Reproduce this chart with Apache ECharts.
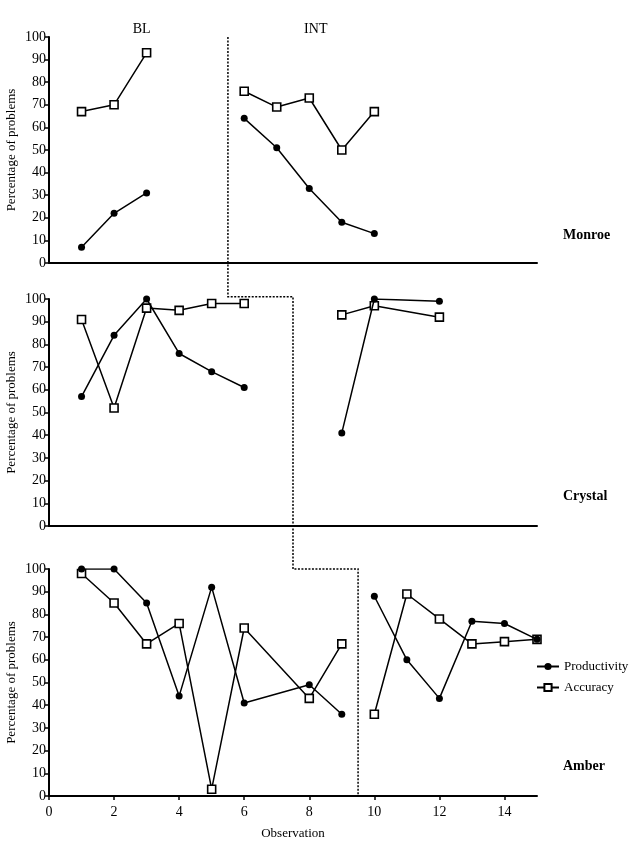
<!DOCTYPE html>
<html>
<head>
<meta charset="utf-8">
<script src="https://cdn.jsdelivr.net/npm/echarts@6/dist/echarts.min.js"></script>
<style>html,body{margin:0;padding:0;background:#fff;}#c{width:633px;height:848px;}</style>
</head>
<body>
<div id="c"></div>
<script>
// ---- data ----
var participants = ['Monroe', 'Crystal', 'Amber'];
var phaseLabels = ['BL', 'INT'];
var seriesNames = ['Productivity', 'Accuracy'];

var monroeBLx = [1, 2, 3];
var monroeBLprod = [7, 22, 31];
var monroeBLacc = [67, 70, 93];
var monroeINTx = [6, 7, 8, 9, 10];
var monroeINTprod = [64, 51, 33, 18, 13];
var monroeINTacc = [76, 69, 73, 50, 67];

var crystalBLx = [1, 2, 3, 4, 5, 6];
var crystalBLprod = [57, 84, 100, 76, 68, 61];
var crystalBLacc = [91, 52, 96, 95, 98, 98];
var crystalINTx = [9, 10, 12];
var crystalINTprod = [41, 100, 99];
var crystalINTacc = [93, 97, 92];

var amberBLx = [1, 2, 3, 4, 5, 6, 8, 9];
var amberBLprod = [100, 100, 85, 44, 92, 41, 49, 36];
var amberBLacc = [98, 85, 67, 76, 3, 74, 43, 67];
var amberINTx = [10, 11, 12, 13, 14, 15];
var amberINTprod = [88, 60, 43, 77, 76, 69];
var amberINTacc = [36, 89, 78, 67, 68, 69];

// phase-change line x positions (per panel)
var phaseChangeX = [5.5, 7.5, 9.5];

var xTicks = [0, 2, 4, 6, 8, 10, 12, 14];
var yTicks = [0, 10, 20, 30, 40, 50, 60, 70, 80, 90, 100];
var xMin = 0, xMax = 15, yMin = 0, yMax = 100;

// ---- chart ----
var FONT = 'Liberation Serif';
function zip(xs, ys) { return xs.map(function (x, i) { return [x, ys[i]]; }); }

var grids = [
  { left: 49, top: 37, width: 488, height: 226, outerBoundsMode: 'none', containLabel: false },
  { left: 49, top: 299, width: 488, height: 227, outerBoundsMode: 'none', containLabel: false },
  { left: 49, top: 569, width: 488, height: 227, outerBoundsMode: 'none', containLabel: false }
];

var xAxes = [], yAxes = [];
for (var i = 0; i < 3; i++) {
  var isBottom = (i === 2);
  xAxes.push({
    type: 'value', gridIndex: i, min: xMin, max: xMax,
    splitLine: { show: false },
    axisLine: { show: true, onZero: false, lineStyle: { color: '#000', width: 2 } },
    axisTick: { show: isBottom, customValues: xTicks, length: 4, lineStyle: { color: '#000', width: 1.5 } },
    axisLabel: { show: isBottom, customValues: xTicks, color: '#000', fontFamily: FONT, fontSize: 14, margin: 9 },
    name: isBottom ? 'Observation' : '', nameLocation: 'middle', nameGap: 31, nameMoveOverlap: false,
    nameTextStyle: { color: '#000', fontFamily: FONT, fontSize: 13 }
  });
  yAxes.push({
    type: 'value', gridIndex: i, min: yMin, max: yMax,
    splitLine: { show: false },
    axisLine: { show: true, lineStyle: { color: '#000', width: 2 } },
    axisTick: { show: true, customValues: yTicks, length: 4, lineStyle: { color: '#000', width: 1.5 } },
    axisLabel: { customValues: yTicks, color: '#000', fontFamily: FONT, fontSize: 14, margin: 3 },
    name: 'Percentage of problems', nameLocation: 'middle', nameGap: 31, nameMoveOverlap: false,
    nameTextStyle: { color: '#000', fontFamily: FONT, fontSize: 13 }
  });
}

function prodSeries(idx, xs, ys) {
  return {
    name: seriesNames[0], type: 'line', xAxisIndex: idx, yAxisIndex: idx,
    data: zip(xs, ys), symbol: 'circle', symbolSize: 7,
    itemStyle: { color: '#000' }, lineStyle: { color: '#000', width: 1.5 },
    z: 3
  };
}
function accSeries(idx, xs, ys) {
  return {
    name: seriesNames[1], type: 'line', xAxisIndex: idx, yAxisIndex: idx,
    data: zip(xs, ys), symbol: 'rect', symbolSize: 8,
    itemStyle: { color: '#fff', borderColor: '#000', borderWidth: 1.6 },
    lineStyle: { color: '#000', width: 1.5 },
    z: 2
  };
}

var series = [
  prodSeries(0, monroeBLx, monroeBLprod), accSeries(0, monroeBLx, monroeBLacc),
  prodSeries(0, monroeINTx, monroeINTprod), accSeries(0, monroeINTx, monroeINTacc),
  prodSeries(1, crystalBLx, crystalBLprod), accSeries(1, crystalBLx, crystalBLacc),
  prodSeries(1, crystalINTx, crystalINTprod), accSeries(1, crystalINTx, crystalINTacc),
  prodSeries(2, amberBLx, amberBLprod), accSeries(2, amberBLx, amberBLacc),
  prodSeries(2, amberINTx, amberINTprod), accSeries(2, amberINTx, amberINTacc)
];

var chart = echarts.init(document.getElementById('c'), null, { renderer: 'canvas' });
chart.setOption({
  animation: false,
  backgroundColor: '#fff',
  grid: grids,
  xAxis: xAxes,
  yAxis: yAxes,
  legend: {
    data: seriesNames, orient: 'vertical', left: 531, top: 655,
    itemWidth: 22, itemHeight: 9, itemGap: 8,
    textStyle: { color: '#000', fontFamily: FONT, fontSize: 13 }
  },
  series: series
});

// ---- annotations positioned through the library's scales ----
function px(g, x, y) { return chart.convertToPixel({ gridIndex: g }, [x, y]); }
var pts = [
  px(0, phaseChangeX[0], 100),
  px(1, phaseChangeX[0], 101),
  px(1, phaseChangeX[1], 101),
  px(2, phaseChangeX[1], 100),
  px(2, phaseChangeX[2], 100),
  px(2, phaseChangeX[2], 0)
];
var graphics = [{
  type: 'polyline', silent: true, z: 1,
  shape: { points: pts },
  style: { stroke: '#000', lineWidth: 1.5, lineDash: [2, 1.5], fill: null }
}];
var blPos = px(0, 2.85, 100), intPos = px(0, 8.2, 100);
graphics.push({ type: 'text', x: blPos[0], y: blPos[1] - 8, style: { text: phaseLabels[0], font: '14px "Liberation Serif"', fill: '#000', textAlign: 'center', textVerticalAlign: 'middle' } });
graphics.push({ type: 'text', x: intPos[0], y: intPos[1] - 8, style: { text: phaseLabels[1], font: '14px "Liberation Serif"', fill: '#000', textAlign: 'center', textVerticalAlign: 'middle' } });
var nameYVal = [12, 13, 13];
for (var g = 0; g < 3; g++) {
  var p = px(g, 15, nameYVal[g]);
  graphics.push({ type: 'text', x: p[0] + 26, y: p[1], style: { text: participants[g], font: 'bold 14px "Liberation Serif"', fill: '#000', textAlign: 'left', textVerticalAlign: 'middle' } });
}
chart.setOption({ graphic: graphics });
</script>
</body>
</html>
